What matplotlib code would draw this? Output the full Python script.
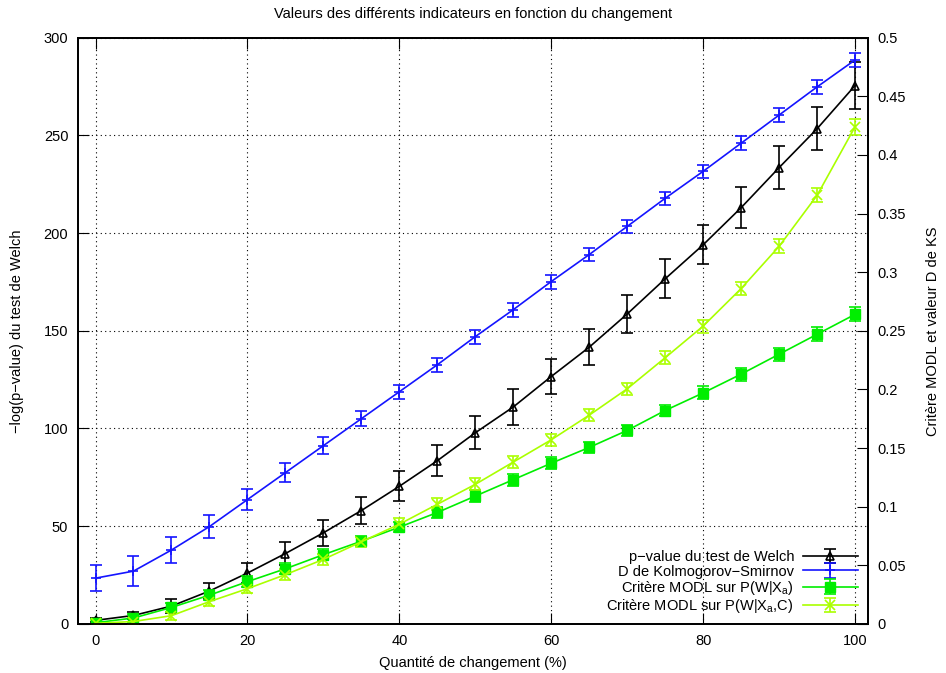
import numpy as np
import matplotlib.pyplot as plt

plt.rcParams['font.family'] = ['Liberation Sans', 'DejaVu Sans']

#data
changement = [0, 5, 10, 15, 20, 25, 30, 35, 40, 45, 50, 55, 60, 65, 70, 75, 80, 85, 90, 95, 100]

#-log(p-value) du test de Welch (axe gauche)
welch = [1.8, 4.3, 9.1, 16.8, 26, 36, 46.6, 58, 70.4, 83.5, 97.8, 111, 126.6, 141.6, 158.6, 176.6, 194, 213, 233.5, 253.4, 275.5]
welch_err = [1, 2, 3.4, 4, 5, 6, 6.8, 7, 7.7, 8, 8.5, 9, 9, 9.3, 9.5, 10, 10, 10.5, 11, 11, 12]

#D de Kolmogorov-Smirnov (axe droit)
ks = [0.039, 0.045, 0.063, 0.083, 0.106, 0.129, 0.152, 0.175, 0.198, 0.221, 0.245, 0.268, 0.292, 0.315, 0.339, 0.363, 0.386, 0.41, 0.434, 0.458, 0.481]
ks_err = [0.011, 0.0125, 0.011, 0.0095, 0.009, 0.0083, 0.0072, 0.0065, 0.006, 0.006, 0.006, 0.006, 0.006, 0.0058, 0.0058, 0.0057, 0.0057, 0.0058, 0.0058, 0.006, 0.0062]

#critere MODL sur P(W|Xa)
modl_a = [0.001, 0.005, 0.014, 0.0245, 0.036, 0.047, 0.059, 0.0705, 0.0825, 0.095, 0.109, 0.123, 0.137, 0.1505, 0.165, 0.182, 0.197, 0.213, 0.23, 0.247, 0.264]
modl_a_err = [0.003, 0.0035, 0.004, 0.004, 0.0045, 0.0045, 0.0045, 0.0045, 0.0045, 0.0045, 0.005, 0.005, 0.005, 0.005, 0.005, 0.005, 0.0055, 0.0055, 0.0055, 0.006, 0.006]

#critere MODL sur P(W|Xa,C)
modl_ac = [0.0005, 0.002, 0.007, 0.019, 0.030, 0.042, 0.055, 0.070, 0.085, 0.102, 0.119, 0.138, 0.157, 0.178, 0.2005, 0.227, 0.254, 0.286, 0.322, 0.3655, 0.424]
modl_ac_err = [0.003, 0.003, 0.0035, 0.004, 0.004, 0.0045, 0.0045, 0.0045, 0.005, 0.005, 0.005, 0.005, 0.005, 0.005, 0.005, 0.0055, 0.0055, 0.0055, 0.006, 0.006, 0.007]

fig = plt.figure(figsize=(9.46, 6.73), dpi=100)
ax = fig.add_axes([0.0825, 0.073, 0.835, 0.871])
ax2 = ax.twinx()

eb = dict(capsize=4, elinewidth=1.2, capthick=1.2, linewidth=1.2)
h1 = ax.errorbar(changement, welch, yerr=welch_err, color='black', marker='^', markersize=6,
                 markerfacecolor='none', markeredgewidth=1.2, label='p\u2212value du test de Welch', **eb)
h2 = ax2.errorbar(changement, ks, yerr=ks_err, color='#1414ff', marker='+', markersize=7,
                  markeredgewidth=1.2, label='D de Kolmogorov\u2212Smirnov', **eb)
h3 = ax2.errorbar(changement, modl_a, yerr=modl_a_err, color='#00ee00', marker='s', markersize=6.5,
                  label='Crit\u00e8re MODL sur P(W|X$_\\mathregular{a}$)', **eb)
h4 = ax2.errorbar(changement, modl_ac, yerr=modl_ac_err, color='#aaff00', marker='x', markersize=7,
                  markeredgewidth=1.2, label='Crit\u00e8re MODL sur P(W|X$_\\mathregular{a}$,C)', **eb)

ax.set_xlim(-2.3, 101.7)
ax.set_ylim(0, 300)
ax2.set_ylim(0, 0.5)
ax.set_xticks([0, 20, 40, 60, 80, 100])
ax.set_yticks([0, 50, 100, 150, 200, 250, 300])
ax2.set_yticks([0, 0.05, 0.1, 0.15, 0.2, 0.25, 0.3, 0.35, 0.4, 0.45, 0.5])
ax2.set_yticklabels(['0', '0.05', '0.1', '0.15', '0.2', '0.25', '0.3', '0.35', '0.4', '0.45', '0.5'])

ax.grid(True, color='black', linestyle=(0, (1, 3)), linewidth=0.8)
ax.tick_params(axis='x', direction='in', top=True, length=8, labelsize=10.5, pad=7)
ax.tick_params(axis='y', direction='in', length=8, labelsize=10.5, pad=7)
ax2.tick_params(axis='y', direction='in', length=8, labelsize=10.5, pad=7)
for a in (ax, ax2):
    for s in a.spines.values():
        s.set_linewidth(1.3)

ax.set_xlabel('Quantit\u00e9 de changement (%)', fontsize=10.5, labelpad=6)
ax.set_ylabel('\u2212log(p\u2212value) du test de Welch', fontsize=10.5, labelpad=14)
ax2.set_ylabel('Crit\u00e8re MODL et valeur D de KS', fontsize=10.5, labelpad=14)
ax.set_title('Valeurs des diff\u00e9rents indicateurs en fonction du changement', fontsize=10.5, pad=14)

ax2.legend(handles=[h1, h2, h3, h4], loc='lower right', bbox_to_anchor=(0.995, 0.005),
           frameon=False, markerfirst=False, fontsize=10.5, handlelength=3.8,
           labelspacing=0.02, borderaxespad=0.2, handletextpad=0.6, borderpad=0.2)

plt.savefig('out.png', dpi=100)
